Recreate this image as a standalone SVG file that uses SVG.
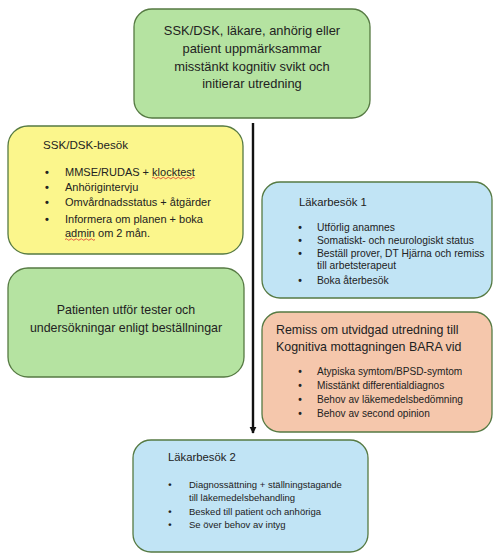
<svg xmlns="http://www.w3.org/2000/svg" width="494" height="554" viewBox="0 0 494 554">
<defs>
<marker id="ah" viewBox="0 0 10 10" refX="9" refY="5" markerWidth="3" markerHeight="3" orient="auto" markerUnits="strokeWidth">
<path d="M0,0 L10,5 L0,10 z" fill="#111"/>
</marker>
</defs>
<style>
.box{stroke:#567a43;stroke-width:1.3}
.g{fill:#b5e3a1}
.y{fill:#fbf68c}
.b{fill:#c1e4f5}
.o{fill:#f5c7ac}
text{font-family:"Liberation Sans",Arial,sans-serif;fill:#222222}
.c{text-anchor:middle}
.t13{font-size:12.9px}
.t124{font-size:12.4px}
.t116{font-size:11.6px}
.t113{font-size:11.3px}
.t11{font-size:11px}
.t103{font-size:10.3px}
.t101{font-size:10.1px}
.t95{font-size:9.5px}
.bul{text-anchor:middle;font-weight:bold}
.sq{fill:none;stroke:#d8322b;stroke-width:0.8}
</style>
<rect width="494" height="554" fill="#ffffff"/>
<g id="connectors">
<line x1="253" y1="123" x2="253" y2="433" stroke="#111" stroke-width="2.4" marker-end="url(#ah)"/>
</g>
<g id="start">
<rect class="box g" x="134" y="9" width="236" height="109" rx="18"/>
<text class="c t13" x="252" y="34.5">SSK/DSK, läkare, anhörig eller</text>
<text class="c t13" x="252" y="52.5">patient uppmärksammar</text>
<text class="c t13" x="252" y="70.5">misstänkt kognitiv svikt och</text>
<text class="c t13" x="252" y="88">initierar utredning</text>
</g>
<g id="ssk-besok">
<rect class="box y" x="8" y="126" width="235" height="128" rx="20"/>
<text class="t116" x="43" y="149">SSK/DSK-besök</text>
<g class="t11">
<text class="bul" x="47" y="175.5">•</text><text x="65" y="175.5">MMSE/RUDAS + klocktest</text>
<text class="bul" x="47" y="190.5">•</text><text x="65" y="190.5">Anhörigintervju</text>
<text class="bul" x="47" y="205.5">•</text><text x="65" y="205.5">Omvårdnadsstatus + åtgärder</text>
<text class="bul" x="47" y="222.5">•</text><text x="65" y="222.5">Informera om planen + boka</text>
<text x="65" y="237">admin om 2 mån.</text>
</g>
<path class="sq" d="M152,178 q1.25,-1.5 2.5,0 t2.5,0 t2.5,0 t2.5,0 t2.5,0 t2.5,0 t2.5,0 t2.5,0 t2.5,0 t2.5,0 t2.5,0 t2.5,0 t2.5,0 t2.5,0 t2.5,0 t2.5,0 t2.5,0"/>
<path class="sq" d="M65,239.5 q1.25,-1.5 2.5,0 t2.5,0 t2.5,0 t2.5,0 t2.5,0 t2.5,0 t2.5,0 t2.5,0 t2.5,0 t2.5,0 t2.5,0 t2.5,0"/>
</g>
<g id="patient-tester">
<rect class="box g" x="8" y="268" width="236" height="109" rx="20"/>
<text class="c t124" x="126" y="314">Patienten utför tester och</text>
<text class="c t124" x="126" y="332">undersökningar enligt beställningar</text>
</g>
<g id="lakarbesok-1">
<rect class="box b" x="262" y="182" width="230" height="116" rx="18"/>
<text class="t113" x="299" y="206">Läkarbesök 1</text>
<g class="t103">
<text class="bul" x="300" y="230.5">•</text><text x="317" y="230.5">Utförlig anamnes</text>
<text class="bul" x="300" y="243.5">•</text><text x="317" y="243.5">Somatiskt- och neurologiskt status</text>
<text class="bul" x="300" y="256.5">•</text><text x="317" y="256.5">Beställ prover, DT Hjärna och remiss</text>
<text x="317" y="269">till arbetsterapeut</text>
<text class="bul" x="300" y="283.5">•</text><text x="317" y="283.5">Boka återbesök</text>
</g>
</g>
<g id="remiss">
<rect class="box o" x="262" y="312" width="230" height="120" rx="18"/>
<text class="t124" x="276" y="333.5">Remiss om utvidgad utredning till</text>
<text class="t124" x="276" y="350.5">Kognitiva mottagningen BARA vid</text>
<g class="t101">
<text class="bul" x="300" y="374.5">•</text><text x="317" y="374.5">Atypiska symtom/BPSD-symtom</text>
<text class="bul" x="300" y="388.5">•</text><text x="317" y="388.5">Misstänkt differentialdiagnos</text>
<text class="bul" x="300" y="402.5">•</text><text x="317" y="402.5">Behov av läkemedelsbedömning</text>
<text class="bul" x="300" y="416.5">•</text><text x="317" y="416.5">Behov av second opinion</text>
</g>
</g>
<g id="lakarbesok-2">
<rect class="box b" x="133" y="440" width="235" height="112" rx="18"/>
<text class="t113" x="168" y="461">Läkarbesök 2</text>
<g class="t95">
<text class="bul" x="170" y="488.3">•</text><text x="189" y="488.3">Diagnossättning + ställningstagande</text>
<text x="189" y="501.3">till läkemedelsbehandling</text>
<text class="bul" x="170" y="515.3">•</text><text x="189" y="515.3">Besked till patient och anhöriga</text>
<text class="bul" x="170" y="528.3">•</text><text x="189" y="528.3">Se över behov av intyg</text>
</g>
</g>
</svg>
